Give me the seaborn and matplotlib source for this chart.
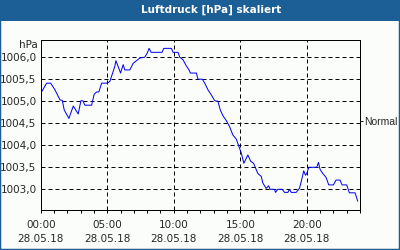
import matplotlib
matplotlib.use("Agg")
import matplotlib.pyplot as plt
import matplotlib.patches as mpatches
import seaborn as sns
import pandas as pd

# ---- data ----
hours = [0.00, 0.45, 0.75, 1.07, 1.45, 1.62, 1.77, 2.12, 2.45, 2.82, 3.02, 3.17, 3.32, 3.83,
         4.02, 4.20, 4.37, 4.58, 5.00, 5.20, 5.57, 5.65, 5.82, 6.00, 6.20, 6.32, 6.70, 6.95,
         7.20, 7.45, 7.82, 8.00, 8.15, 8.30, 9.12, 9.25, 9.83, 9.95, 10.32, 10.45, 10.70, 10.95,
         11.15, 11.25, 11.70, 11.82, 12.15, 12.33, 12.57, 12.83, 13.08, 13.32, 13.50, 13.70,
         13.95, 14.20, 14.45, 14.70, 14.95, 15.08, 15.27, 15.57, 15.78, 16.00, 16.32, 16.58,
         16.70, 16.95, 17.13, 17.25, 17.57, 17.65, 17.82, 18.15, 18.33, 18.58, 18.70, 18.83,
         19.20, 19.45, 19.58, 19.77, 19.90, 20.00, 20.15, 20.75, 20.88, 21.00, 21.20, 21.45,
         21.65, 22.00, 22.20, 22.50, 22.65, 23.00, 23.20, 23.63, 23.83]
pressure = [1005.18, 1005.41, 1005.41, 1005.26, 1005.03, 1005.02, 1004.80, 1004.61, 1004.89,
            1004.71, 1005.01, 1005.01, 1004.91, 1004.91, 1005.16, 1005.21, 1005.21, 1005.41,
            1005.41, 1005.45, 1005.79, 1005.92, 1005.79, 1005.64, 1005.83, 1005.71, 1005.71,
            1005.86, 1005.92, 1005.98, 1006.00, 1006.09, 1006.20, 1006.11, 1006.11, 1006.20,
            1006.20, 1006.11, 1006.11, 1006.00, 1005.94, 1005.80, 1005.71, 1005.64, 1005.64,
            1005.50, 1005.50, 1005.41, 1005.26, 1005.14, 1005.01, 1005.00, 1004.80, 1004.67,
            1004.56, 1004.42, 1004.23, 1004.14, 1003.93, 1003.82, 1003.59, 1003.78, 1003.64,
            1003.59, 1003.36, 1003.29, 1003.14, 1003.02, 1003.08, 1003.00, 1003.00, 1002.93,
            1003.00, 1003.00, 1002.93, 1002.93, 1003.00, 1002.93, 1002.93, 1003.02, 1003.17,
            1003.42, 1003.32, 1003.36, 1003.50, 1003.50, 1003.61, 1003.45, 1003.36, 1003.27,
            1003.10, 1003.10, 1003.21, 1003.21, 1003.10, 1003.10, 1002.92, 1002.92, 1002.73]
x_ticks = [0, 5, 10, 15, 20]
x_tick_labels = ["00:00\n28.05.18", "05:00\n28.05.18", "10:00\n28.05.18",
                 "15:00\n28.05.18", "20:00\n28.05.18"]
y_ticks = [1003.0, 1003.5, 1004.0, 1004.5, 1005.0, 1005.5, 1006.0]
y_tick_labels = ["1003,0", "1003,5", "1004,0", "1004,5", "1005,0", "1005,5", "1006,0"]
normal_level = 1004.56
title = "Luftdruck [hPa] skaliert"
unit = "hPa"

# ---- style ----
sns.set_style("white")
plt.rcParams['font.family'] = ['DejaVu Sans']
BLUE = "#1b5f96"
BG = "#fbfdfb"
FS = 7.5
px = 72 / 100.0

fig = plt.figure(figsize=(4, 2.5), dpi=100, facecolor=BG)
ax = fig.add_axes([40.7 / 400, 1 - 210 / 250, (360 - 40.7) / 400, 170 / 250])
ax.set_facecolor(BG)

df = pd.DataFrame({"h": hours, "p": pressure})
sns.lineplot(data=df, x="h", y="p", ax=ax, color="#0000f0", linewidth=1 * px, zorder=3)

ax.set_xlim(0, 24)
ax.set_ylim(1002.53, 1006.39)
ax.set_xlabel("")
ax.set_ylabel("")

ax.set_xticks(x_ticks)
ax.set_xticklabels(x_tick_labels, fontsize=FS, linespacing=1.45)
ax.set_xticks(range(0, 25), minor=True)
ax.set_yticks(y_ticks)
ax.set_yticklabels(y_tick_labels, fontsize=FS)
ax.tick_params(axis="x", which="both", direction="out", length=2.2, width=1 * px,
               color="black", pad=5, bottom=True)
ax.tick_params(axis="y", which="both", length=0, pad=3, left=False)

for s in ax.spines.values():
    s.set_visible(True)
    s.set_color("black")
    s.set_linewidth(1 * px)

ax.grid(True, which="major", color="black", linewidth=1 * px, linestyle=(0, (4, 3)))
ax.set_axisbelow(True)

# right "Normal" marker
ax2 = ax.twinx()
ax2.set_ylim(ax.get_ylim())
ax2.set_yticks([normal_level])
ax2.set_yticklabels(["Normal"], fontsize=7.5, family=["Liberation Sans"])
ax2.tick_params(axis="y", direction="out", length=2.2, width=1 * px, pad=0.8)
for s in ax2.spines.values():
    s.set_visible(False)

ax.annotate(unit, xy=(0, 1), xycoords="axes fraction", xytext=(-3, -5),
            textcoords="offset pixels", ha="right", va="center", fontsize=FS)

# title bar and border
fig.patches.append(mpatches.Rectangle((0, 1 - 21 / 250), 1, 21 / 250, transform=fig.transFigure,
                                      facecolor=BLUE, edgecolor="none", zorder=0))
fig.text(211 / 400, 1 - 10 / 250, title, color="white", fontsize=7.5, fontweight="bold",
         ha="center", va="center")
fig.patches.append(mpatches.Rectangle((0, 0), 1, 1, transform=fig.transFigure,
                                      facecolor="none", edgecolor=BLUE, linewidth=2.5 * px,
                                      zorder=5))

fig.savefig("out.png", dpi=100, facecolor=BG)
